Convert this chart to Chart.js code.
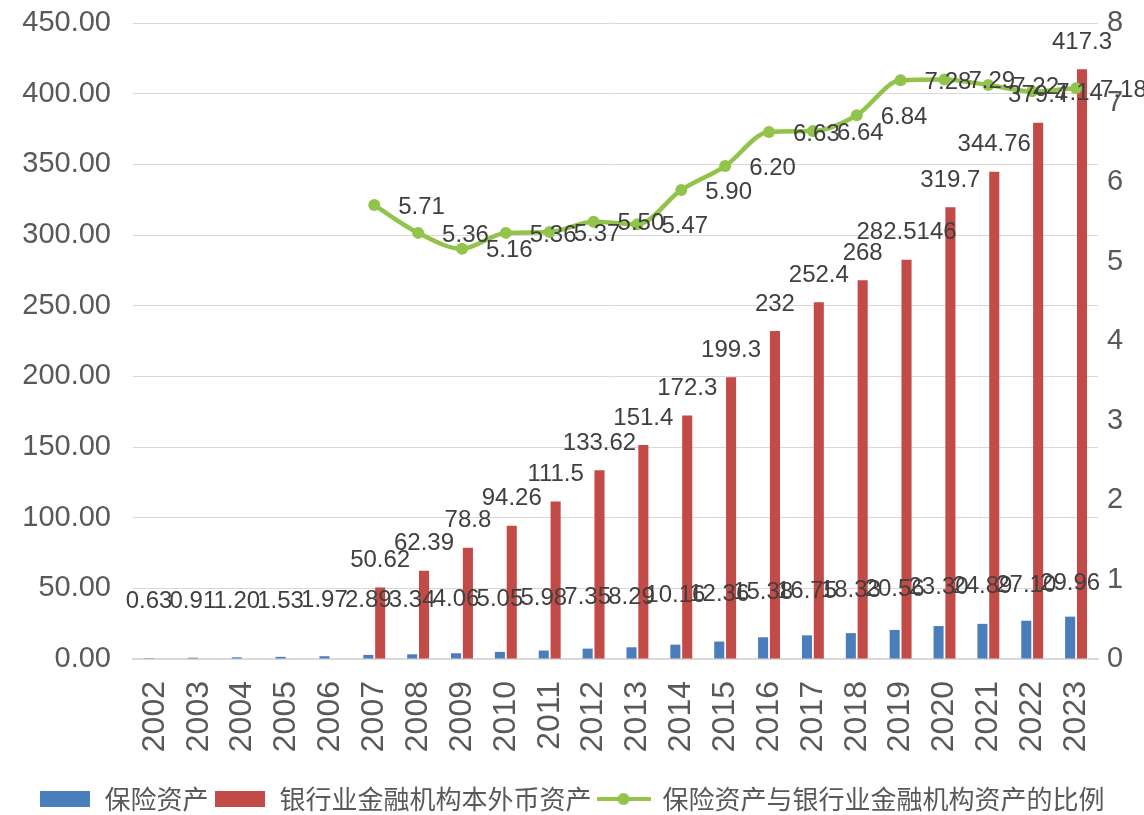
<!DOCTYPE html>
<html>
<head>
<meta charset="utf-8">
<script src="https://cdn.jsdelivr.net/npm/chart.js@4.4.1/dist/chart.umd.min.js"></script>
<style>
  body { margin: 0; background: #fff; }
  #wrap { width: 1144px; height: 815px; }
</style>
</head>
<body>
<div id="wrap"><canvas id="assetChart" width="1144" height="815"></canvas></div>
<script>
const years = ["2002","2003","2004","2005","2006","2007","2008","2009","2010","2011","2012",
  "2013","2014","2015","2016","2017","2018","2019","2020","2021","2022","2023"]
// 保险资产 (万亿元)
const insuranceAssets = [0.63,0.91,1.20,1.53,1.97,2.89,3.34,4.06,5.05,5.98,7.35,
  8.29,10.16,12.36,15.38,16.75,18.33,20.56,23.30,24.89,27.10,29.96]
// 银行业金融机构本外币资产 (万亿元)
const bankAssets = [null,null,null,null,null,50.62,62.39,78.8,94.26,111.5,133.62,
  151.4,172.3,199.3,232,252.4,268,282.5146,319.7,344.76,379.4,417.3]
// 比例 (%)
const ratio = [null,null,null,null,null,5.71,5.36,5.16,5.36,5.37,5.50,
  5.47,5.90,6.20,6.63,6.64,6.84,7.28,7.29,7.22,7.14,7.18]

const leftMax = 450, leftStep = 50
const rightMax = 8, rightStep = 1

const BLUE = "#4a7ebb"
const RED = "#c24a47"
const GREEN = "#92c34a"
const TEXT = "#404040"
const AXIS_TEXT = "#595959"
const LATIN = '"Liberation Sans", Arial, sans-serif'

// legend markers: two boxes and a line with a dot
function boxMark(color){
  const c = document.createElement("canvas")
  c.width = 50; c.height = 16
  const g = c.getContext("2d")
  g.fillStyle = color
  g.fillRect(0, 0, 50, 16)
  return c
}
function lineMark(color){
  const c = document.createElement("canvas")
  c.width = 54; c.height = 16
  const g = c.getContext("2d")
  g.strokeStyle = color
  g.lineWidth = 4
  g.beginPath(); g.moveTo(0, 8); g.lineTo(54, 8); g.stroke()
  g.fillStyle = color
  g.beginPath(); g.arc(27, 8, 6, 0, Math.PI*2); g.fill()
  return c
}
const legendMarks = [boxMark(BLUE), boxMark(RED), lineMark(GREEN)]

const valueLabels = {
  id: "valueLabels",
  afterDatasetsDraw(chart){
    const ctx = chart.ctx
    const y = chart.scales.y
    const base = y.getPixelForValue(0)
    ctx.save()
    ctx.font = "24px " + LATIN
    ctx.fillStyle = TEXT
    ctx.textBaseline = "middle"
    ctx.textAlign = "center"
    chart.getDatasetMeta(0).data.forEach((bar, i) => {
      const ly = base - 57 - (base - bar.y) * 0.43
      ctx.fillText(insuranceAssets[i].toFixed(2), bar.x, ly)
    })
    chart.getDatasetMeta(1).data.forEach((bar, i) => {
      if (bankAssets[i] == null) return
      ctx.fillText(String(bankAssets[i]), bar.x, bar.y - 27)
    })
    ctx.textAlign = "left"
    chart.getDatasetMeta(2).data.forEach((pt, i) => {
      if (ratio[i] == null) return
      ctx.fillText(ratio[i].toFixed(2), pt.x + 24, pt.y + 2)
    })
    ctx.restore()
  }
}

// push the legend row a little lower, close to the bottom edge
const legendShift = {
  id: "legendShift",
  afterLayout(chart){
    chart.legend.top += 7
    chart.legend.bottom += 7
  }
}

const CHART = document.getElementById("assetChart")

let assetChart = new Chart(CHART, {
  type: "bar",
  data: {
    labels: years,
    datasets: [
      {
        label: "保险资产",
        data: insuranceAssets,
        backgroundColor: BLUE,
        yAxisID: "y",
        order: 2,
        categoryPercentage: 0.54,
        barPercentage: 0.85
      },
      {
        label: "银行业金融机构本外币资产",
        data: bankAssets,
        backgroundColor: RED,
        yAxisID: "y",
        order: 2,
        categoryPercentage: 0.54,
        barPercentage: 0.85
      },
      {
        type: "line",
        label: "保险资产与银行业金融机构资产的比例",
        data: ratio,
        borderColor: GREEN,
        backgroundColor: GREEN,
        borderWidth: 4.5,
        pointRadius: 6,
        pointBorderWidth: 0,
        pointBackgroundColor: GREEN,
        cubicInterpolationMode: "monotone",
        yAxisID: "y1",
        order: 0
      }
    ]
  },
  options: {
    responsive: false,
    animation: false,
    layout: { padding: { top: 23, left: 0, right: 0, bottom: 0 } },
    plugins: {
      tooltip: { enabled: false },
      legend: {
        position: "bottom",
        labels: {
          usePointStyle: true,
          pointStyleWidth: 52,
          boxHeight: 16,
          padding: 6,
          color: AXIS_TEXT,
          font: { family: '"Noto Sans CJK SC", sans-serif', size: 26 },
          sort: (a, b) => a.datasetIndex - b.datasetIndex,
          generateLabels(chart){
            const items = Chart.defaults.plugins.legend.labels.generateLabels(chart)
            items.forEach(it => { it.pointStyle = legendMarks[it.datasetIndex] })
            return items
          }
        }
      }
    },
    scales: {
      x: {
        grid: { display: false, drawTicks: false },
        border: { color: "#d9d9d9", width: 2 },
        ticks: {
          minRotation: 90, maxRotation: 90, padding: 22,
          color: AXIS_TEXT, font: { family: LATIN, size: 32 }
        },
        afterFit(scale){ scale.height = 114 }
      },
      y: {
        position: "left",
        min: 0, max: leftMax,
        grid: { color: "#d9d9d9", drawTicks: false },
        border: { display: false },
        ticks: {
          stepSize: leftStep, padding: 22,
          color: AXIS_TEXT,
          // small lineHeight keeps the top label from reserving extra room
          font: { family: LATIN, size: 29, lineHeight: 0.05 },
          callback: v => v.toFixed(2)
        },
        afterFit(scale){ scale.width = 133 }
      },
      y1: {
        position: "right",
        min: 0, max: rightMax,
        grid: { display: false, drawTicks: false },
        border: { display: false },
        ticks: {
          stepSize: rightStep, padding: 9,
          color: AXIS_TEXT, font: { family: LATIN, size: 29, lineHeight: 0.05 }
        },
        afterFit(scale){ scale.width = 46 }
      }
    }
  },
  plugins: [valueLabels, legendShift]
})
</script>
</body>
</html>
